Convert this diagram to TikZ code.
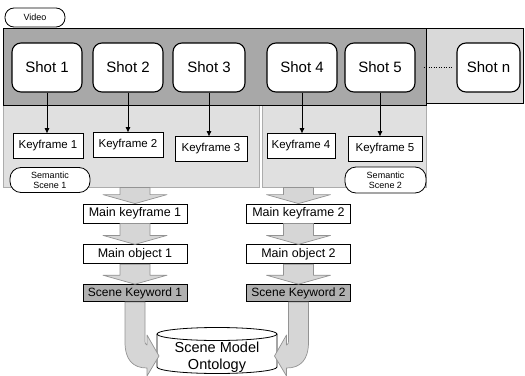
\documentclass[tikz,border=0pt]{standalone}
\usepackage{fontspec}
\setmainfont{Liberation Sans}
\usepackage{tikz}
\usetikzlibrary{
	arrows.meta,
	calc,
	positioning
}
\tikzset{every path/.append style={line width=0.5pt}}
\tikzset{every path/.append style={>={Triangle[length=5pt,width=4.5pt]}}}
\tikzset{
	shotbox/.style={draw,fill=white,rounded corners=9pt,minimum width=70pt,minimum height=49pt,inner sep=0pt,line width=1.1pt,font=\fontsize{15}{17}\selectfont},
	keybox/.style={draw,fill=white,minimum width=70pt,minimum height=25pt,inner sep=0pt,line width=0.8pt,font=\fontsize{11.5}{13}\selectfont},
	mainbox/.style={draw,fill=white,minimum width=104pt,minimum height=19pt,inner sep=0pt,line width=0.8pt,font=\fontsize{12.5}{14}\selectfont},
	wordbox/.style={mainbox,fill=gray!62,minimum height=17pt,font=\fontsize{12}{14}\selectfont},
	pill/.style={draw,fill=white,rounded corners=9pt,inner sep=0pt,align=center,line width=0.8pt,font=\fontsize{9}{10}\selectfont},
	region/.style={draw=gray!65,fill=gray!24,anchor=north west,inner sep=0pt,minimum height=84pt},
	bigarrow/.style={draw=gray!85,fill=gray!32,line width=0.7pt,line join=round}
}
\newcommand{\tikzBigArrow}[2]{\draw[bigarrow] let \p1=(#1.south), \p2=(#2.north) in
	(\x2-15pt,\y1) -- (\x2-15pt,\y2+9pt) -- (\x2-32pt,\y2+9pt) -- (\x2,\y2) -- (\x2+32pt,\y2+9pt) -- (\x2+15pt,\y2+9pt) -- (\x2+15pt,\y1) -- cycle;}
\newcommand{\tikzBendArrow}[2][]{\begin{scope}[shift={(#2.south)},#1]
	\draw[bigarrow] (-10,0) -- (-10,40) .. controls (-10,58) and (-2,66) .. (12,66) -- (12,74) -- (24,54) -- (12,33) -- (12,43) .. controls (10,43) and (10,41) .. (10,36) -- (10,0) -- cycle;
	\end{scope}}

\begin{document}
\begin{tikzpicture}[x=1pt,y=-1pt]
	\useasboundingbox (0,0) rectangle (525,375);

	% semantic scene regions
	\node (scene1) [region,minimum width=256pt] at (3,103) {};
	\node (scene2) [region,minimum width=164pt] at (262,103) {};

	% video strip
	\draw[fill=gray!30,line width=0.8pt] (3,28) rectangle (523,103);
	\draw[fill=gray!68,line width=1pt] (3,28) rectangle (426,105);
	\node (video) [pill,minimum width=60pt,minimum height=19pt] at (35,17.5) {Video};

	\node (shot1) [shotbox] at (47,67.5) {Shot 1};
	\node (shot2) [shotbox] at (128,67.5) {Shot 2};
	\node (shot3) [shotbox,minimum width=72pt] at (209,67.5) {Shot 3};
	\node (shot4) [shotbox] at (302,67.5) {Shot 4};
	\node (shot5) [shotbox] at (380,67.5) {Shot 5};
	\node (shotn) [shotbox,minimum width=63pt] at (488.5,67.5) {Shot n};
	\draw[dotted,line width=1.6pt,shorten <=8pt,shorten >=4pt] (shot5) -- (shotn);

	% keyframes
	\node (key1) [keybox] at (48,146) {Keyframe 1};
	\node (key2) [keybox] at (128,145) {Keyframe 2};
	\node (key3) [keybox,minimum width=72pt] at (211,149) {Keyframe 3};
	\node (key4) [keybox,minimum width=68pt] at (301,146) {Keyframe 4};
	\node (key5) [keybox,minimum width=74pt] at (385,149) {Keyframe 5};

	\draw[->,line width=0.8pt] (shot1.south) -- (shot1.south |- key1.north);
	\draw[->,line width=0.8pt] (shot2.south) -- (shot2.south |- key2.north);
	\draw[->,line width=0.8pt] (shot3.south) -- (shot3.south |- key3.north);
	\draw[->,line width=0.8pt] (shot4.south) -- (shot4.south |- key4.north);
	\draw[->,line width=0.8pt] (shot5.south) -- (shot5.south |- key5.north);

	\node (sem1) [pill,minimum width=80pt,minimum height=25pt,rounded corners=11pt] at (50,180) {Semantic\\Scene 1};
	\node (sem2) [pill,minimum width=81pt,minimum height=26pt,rounded corners=11pt] at (385.5,180) {Semantic\\Scene 2};

	% main column per scene
	\node (mkey1) [mainbox] at (135,213.5) {Main keyframe 1};
	\node (mobj1) [mainbox,below=21pt of mkey1] {Main object 1};
	\node (word1) [wordbox,below=20pt of mobj1] {Scene Keyword 1};

	\node (mkey2) [mainbox] at (298.5,213.5) {Main keyframe 2};
	\node (mobj2) [mainbox,below=21pt of mkey2] {Main object 2};
	\node (word2) [wordbox,below=20pt of mobj2] {Scene Keyword 2};

	\tikzBigArrow{scene1}{mkey1}
	\tikzBigArrow{mkey1}{mobj1}
	\tikzBigArrow{mobj1}{word1}
	\tikzBigArrow{scene2}{mkey2}
	\tikzBigArrow{mkey2}{mobj2}
	\tikzBigArrow{mobj2}{word2}

	% ontology
	\draw[fill=white,line width=0.8pt] (157,334) -- (157,367) arc[start angle=180,end angle=0,x radius=60,y radius=6.5] -- (277,334) arc[start angle=0,end angle=-180,x radius=60,y radius=6.5] -- cycle;
	\draw[line width=0.8pt] (157,334) arc[start angle=180,end angle=0,x radius=60,y radius=6.5];
	\node (onto) [align=center,inner sep=0pt,font=\fontsize{14.5}{17.5}\selectfont] at (217,357) {Scene Model\\Ontology};

	\tikzBendArrow{word1}
	\tikzBendArrow[xscale=-1]{word2}
\end{tikzpicture}
\end{document}
